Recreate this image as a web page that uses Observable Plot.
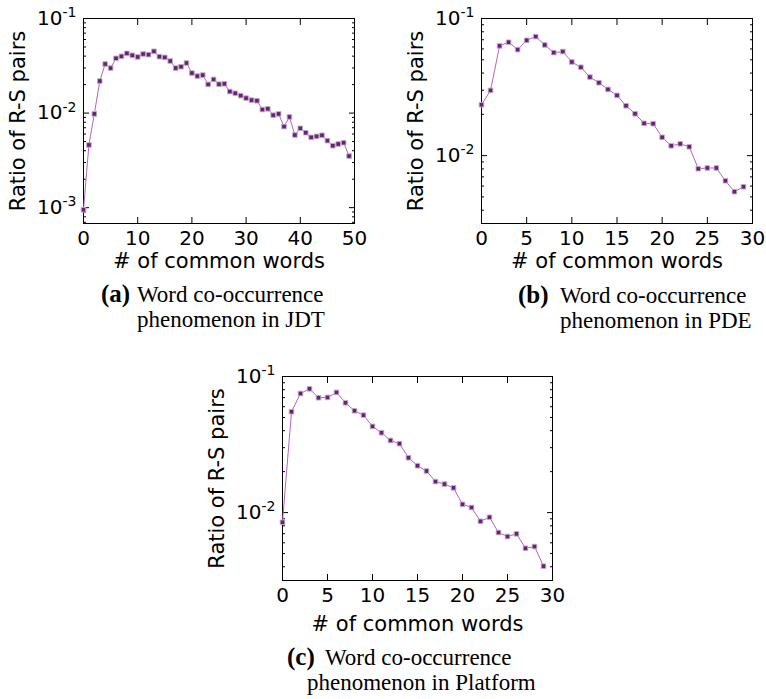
<!DOCTYPE html>
<html><head><meta charset="utf-8">
<script src="https://cdn.jsdelivr.net/npm/d3@7"></script>
<script src="https://cdn.jsdelivr.net/npm/@observablehq/plot@0.6"></script>
<style>
body{margin:0;background:#fff;}
#root{position:relative;width:766px;height:699px;overflow:hidden;background:#fff;}
.panel{position:absolute;}
.panel svg{overflow:visible;max-width:none;}
#cap{position:absolute;left:0;top:0;}
</style></head><body><div id="root"></div>
<script>
// ---- data ----
const jdtX = [0,1,2,3,4,5,6,7,8,9,10,11,12,13,14,15,16,17,18,19,20,21,22,23,24,25,26,27,28,29,30,31,32,33,34,35,36,37,38,39,40,41,42,43,44,45,46,47,48,49];
const jdtY = [0.00095,0.0046,0.0098,0.0218,0.0330,0.0299,0.0379,0.0398,0.0428,0.0408,0.0392,0.0421,0.0415,0.0450,0.0395,0.0388,0.0355,0.0299,0.0309,0.0338,0.0265,0.0246,0.0252,0.0201,0.0227,0.0202,0.0204,0.0169,0.0162,0.0153,0.0144,0.0137,0.0135,0.0109,0.0111,0.0095,0.0098,0.0072,0.0091,0.00586,0.0069,0.0062,0.00554,0.00567,0.00582,0.00511,0.00452,0.00471,0.00486,0.00351];
const pdeX = [0,1,2,3,4,5,6,7,8,9,10,11,12,13,14,15,16,17,18,19,20,21,22,23,24,25,26,27,28,29];
const pdeY = [0.0235,0.0299,0.0631,0.0671,0.0593,0.0693,0.0738,0.0641,0.0564,0.0574,0.0482,0.0441,0.0374,0.0340,0.0304,0.0275,0.0231,0.0202,0.0172,0.0171,0.0136,0.0118,0.0122,0.0116,0.00803,0.00813,0.00813,0.00656,0.00546,0.00593];
const platX = [0,1,2,3,4,5,6,7,8,9,10,11,12,13,14,15,16,17,18,19,20,21,22,23,24,25,26,27,28,29];
const platY = [0.00849,0.0551,0.0750,0.0812,0.0698,0.0702,0.0764,0.0641,0.0560,0.0520,0.0430,0.0386,0.0339,0.0321,0.0253,0.0221,0.0202,0.0169,0.0162,0.0152,0.0115,0.0109,0.00863,0.00924,0.00714,0.00667,0.00698,0.00547,0.00563,0.00404];

const xTicks50 = [0,10,20,30,40,50];
const xTicks30 = [0,5,10,15,20,25,30];
const yMajorA = [0.001,0.01,0.1];
const yMinorA = [0.0007,0.0008,0.0009,0.002,0.003,0.004,0.005,0.006,0.007,0.008,0.009,0.02,0.03,0.04,0.05,0.06,0.07,0.08,0.09];
const yMajorBC = [0.01,0.1];
const yMinorBC = [0.004,0.005,0.006,0.007,0.008,0.009,0.02,0.03,0.04,0.05,0.06,0.07,0.08,0.09];

const xLabel = "# of common words";
const yLabel = "Ratio of R-S pairs";
const capLabels = ["(a)","(b)","(c)"];
const capLine1 = ["Word co-occurrence","Word co-occurrence","Word co-occurrence"];
const capLine2 = ["phenomenon in JDT","phenomenon in PDE","phenomenon in Platform"];

// ---- drawing ----
const root = document.getElementById("root");
const fmtPow = d => "10^" + Math.round(Math.log10(d));
const blank = () => "";

function panel(cfg) {
  const data = cfg.xs.map((x, i) => ({x, y: cfg.ys[i]}));
  const svg = Plot.plot({
    width: cfg.width, height: cfg.height,
    marginLeft: cfg.ml, marginRight: cfg.mr, marginTop: cfg.mt, marginBottom: cfg.mb,
    style: {fontFamily: "'DejaVu Sans', sans-serif", fontSize: "20px", background: "none", overflow: "visible", color: "#000"},
    x: {domain: cfg.xDomain},
    y: {type: "log", domain: cfg.yDomain},
    marks: [
      Plot.axisX({anchor: "bottom", ticks: cfg.xTicks, tickSize: -6, tickPadding: 13, tickFormat: d => String(d), label: null}),
      Plot.axisX({anchor: "top", ticks: cfg.xTicks, tickSize: -6, tickFormat: blank, label: null}),
      Plot.axisY({anchor: "left", ticks: cfg.yMajor, tickSize: -6, tickPadding: 13, tickFormat: fmtPow, label: null}),
      Plot.axisY({anchor: "left", ticks: cfg.yMinor, tickSize: -3, tickFormat: blank, label: null}),
      Plot.axisY({anchor: "right", ticks: cfg.yMajor, tickSize: -6, tickFormat: blank, label: null}),
      Plot.axisY({anchor: "right", ticks: cfg.yMinor, tickSize: -3, tickFormat: blank, label: null}),
      Plot.frame({stroke: "#000", strokeWidth: 1}),
      Plot.line(data, {x: "x", y: "y", stroke: "#b264c2", strokeWidth: 1}),
      Plot.dot(data, {x: "x", y: "y", symbol: "square", r: 2.6, fill: "#6c1d7d", stroke: "#bdb3c0", strokeWidth: 0.9}),
      Plot.text([xLabel], {text: d => d, frameAnchor: "bottom", dy: cfg.xLabDy, lineAnchor: "bottom", fontSize: 21}),
      Plot.text([yLabel], {text: d => d, frameAnchor: "left", dx: -59, rotate: -90, lineAnchor: "bottom", textAnchor: "middle", fontSize: 21})
    ]
  });
  d3.select(svg).selectAll("text").each(function() {
    const t = this.textContent;
    if (t.includes("^")) {
      const [b, e] = t.split("^");
      const s = d3.select(this);
      s.text(null);
      s.append("tspan").text(b);
      s.append("tspan").attr("dy", "-0.55em").attr("font-size", "14px").text(e);
    }
  });
  const div = document.createElement("div");
  div.className = "panel";
  div.style.left = cfg.left + "px";
  div.style.top = cfg.top + "px";
  div.style.width = cfg.width + "px";
  div.style.height = cfg.height + "px";
  div.appendChild(svg);
  root.appendChild(div);
}

panel({xs: jdtX, ys: jdtY, xDomain: [0, 50], xTicks: xTicks50, yDomain: [0.00068, 0.1], yMajor: yMajorA, yMinor: yMinorA,
  left: 0, top: 0, width: 370, height: 280, ml: 83, mr: 16, mt: 18, mb: 57, xLabDy: 44});
panel({xs: pdeX, ys: pdeY, xDomain: [0, 30], xTicks: xTicks30, yDomain: [0.0032, 0.1], yMajor: yMajorBC, yMinor: yMinorBC,
  left: 395, top: 0, width: 371, height: 280, ml: 86, mr: 14, mt: 18, mb: 57, xLabDy: 44});
panel({xs: platX, ys: platY, xDomain: [0, 30], xTicks: xTicks30, yDomain: [0.00317, 0.1], yMajor: yMajorBC, yMinor: yMinorBC,
  left: 200, top: 358, width: 370, height: 282, ml: 82, mr: 18, mt: 18, mb: 60, xLabDy: 50});

// ---- captions ----
const capPos = [
  {xl: 101, x1: 137, x2: 137, y1: 302, y2: 327},
  {xl: 518, x1: 560, x2: 560, y1: 303, y2: 328},
  {xl: 287, x1: 325, x2: 307, y1: 665, y2: 690}
];
const cap = d3.select(root).append("svg").attr("id", "cap").attr("width", 766).attr("height", 699)
  .style("font-family", "'Liberation Serif', 'Times New Roman', serif");
capLabels.forEach((lab, i) => {
  const p = capPos[i];
  cap.append("text").attr("x", p.xl).attr("y", p.y1).attr("font-size", 25).attr("font-weight", "bold").text(lab);
  cap.append("text").attr("x", p.x1).attr("y", p.y1).attr("font-size", 23).text(capLine1[i]);
  cap.append("text").attr("x", p.x2).attr("y", p.y2).attr("font-size", 23).text(capLine2[i]);
});
</script></body></html>
